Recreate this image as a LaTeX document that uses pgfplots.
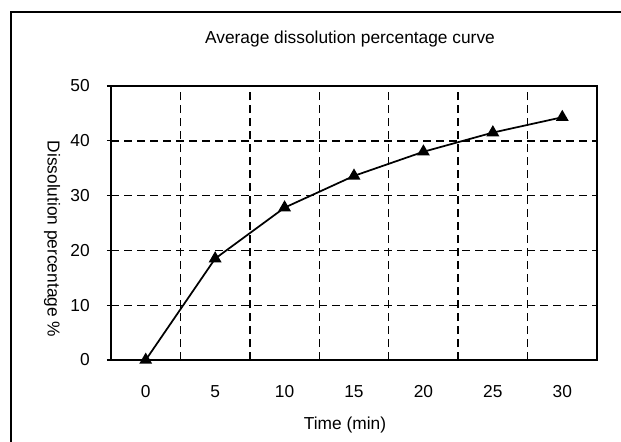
\documentclass[border=0pt]{standalone}
\usepackage{fontspec}
\setmainfont{Liberation Sans}
\usepackage{pgfplots}
\pgfplotsset{compat=1.18}
\begin{document}
\begin{tikzpicture}[font=\fontsize{13pt}{15pt}\selectfont]
\useasboundingbox (0,0) rectangle (465.75pt,-331.5pt);
\draw[line width=0.8pt] (8.25pt,-340pt) -- (8.25pt,-9pt) -- (480pt,-9pt);
\begin{axis}[
  at={(83.25pt,-270pt)}, anchor=south west,
  scale only axis, width=364.5pt, height=205.5pt,
  xmin=-2.5, xmax=32.5, ymin=0, ymax=50,
  xtick={0,5,...,30}, ytick={0,10,...,50},
  minor xtick={2.5,7.5,...,27.5},
  xminorgrids=true, ymajorgrids=true, xmajorgrids=false,
  grid style={black, line width=1.05pt, dash pattern=on 6pt off 3.75pt},
  minor grid style={black, line width=1.05pt, dash pattern=on 6pt off 3.75pt},
  axis line style={line width=1.4pt},
  tick align=outside, ytick pos=left, xtick pos=bottom,
  major tick length=3pt, minor tick length=0pt,
  x tick style={draw=none},
  y tick style={line width=1pt, black},
  /pgf/number format/assume math mode=true,
  xticklabel style={anchor=base, yshift=-25pt},
  yticklabel style={anchor=east, inner sep=0pt, xshift=-12.75pt},
  title={Average dissolution percentage curve},
  title style={at={(axis description cs:0.4918,1.142)}, anchor=center},
  xlabel={Time (min)},
  xlabel style={at={(axis description cs:0.4815,-0.237)}, anchor=center},
  ylabel={Dissolution percentage \%},
  ylabel style={at={(axis description cs:-0.1214,0.4416)}, anchor=center, rotate=180},
  clip=false,
]
\addplot[black, line width=1.3pt, mark=triangle*, mark size=4.3pt, mark options={solid}]
  coordinates {(0,0) (5,18.5) (10,27.8) (15,33.6) (20,38.0) (25,41.5) (30,44.3)};
\end{axis}
\end{tikzpicture}
\end{document}
